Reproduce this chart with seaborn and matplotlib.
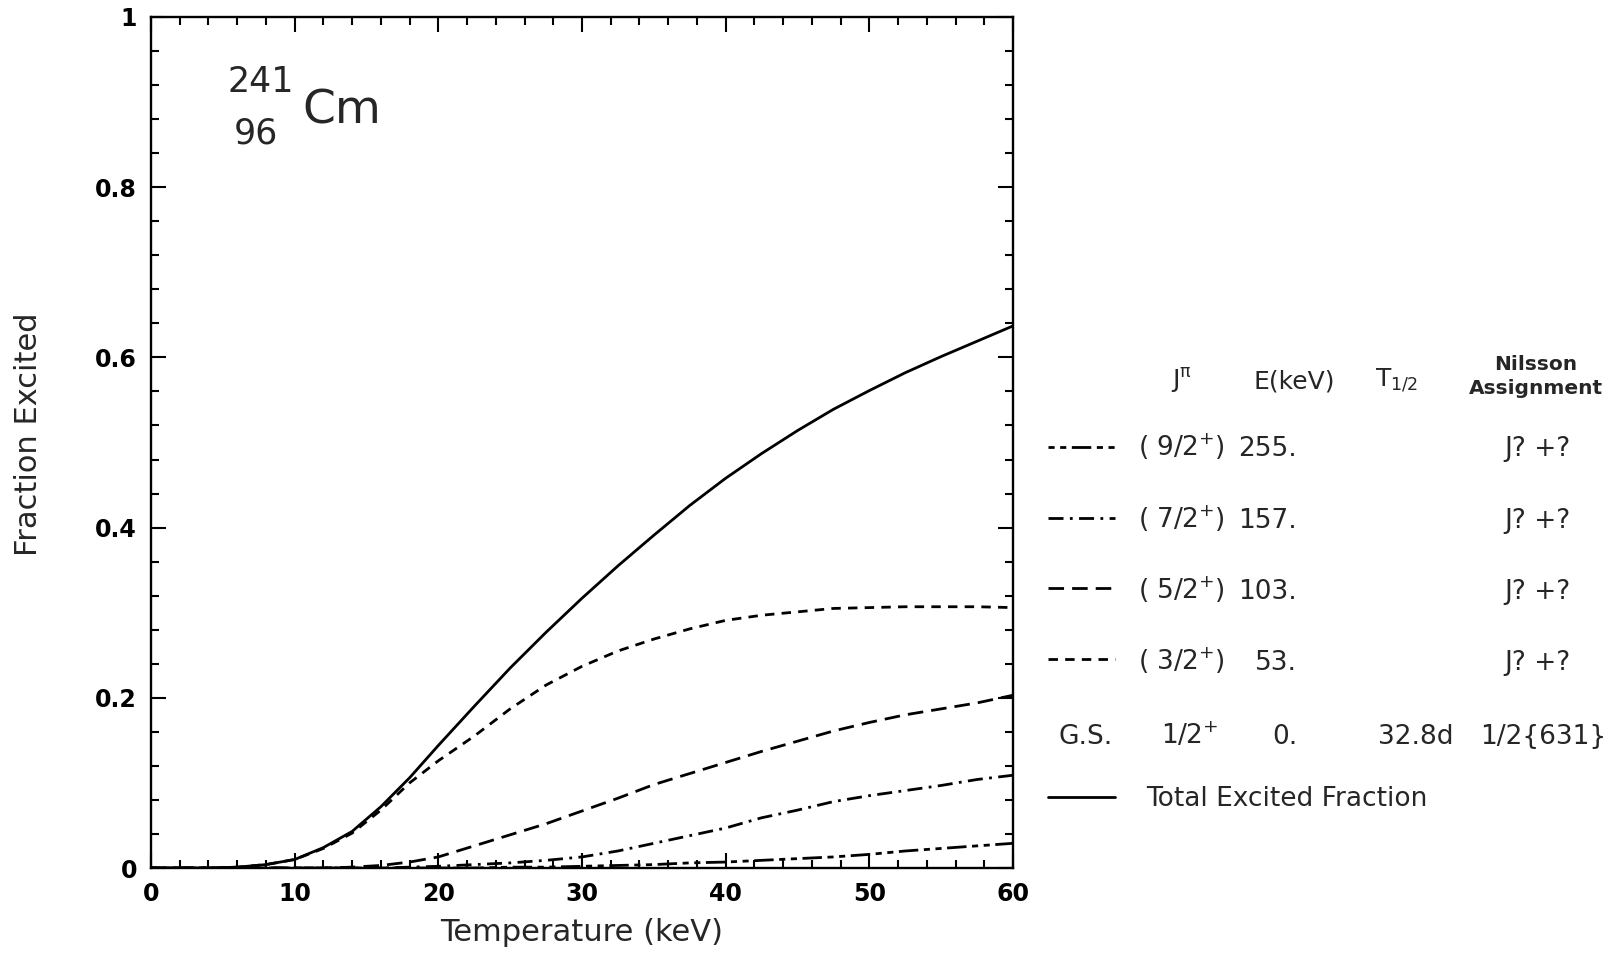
import matplotlib
matplotlib.use("Agg")
import matplotlib.pyplot as plt
from matplotlib.ticker import MultipleLocator, FuncFormatter
import seaborn as sns

# ---- data ----
temperature = [0, 2, 4, 6, 8, 10, 12, 14, 16, 18, 20, 22.5, 25, 27.5, 30,
               32.5, 35, 37.5, 40, 42.5, 45, 47.5, 50, 52.5, 55, 57.5, 60]
total_excited = [0, 0, 0, 0.001, 0.004, 0.010, 0.024, 0.043, 0.072, 0.106, 0.144,
                 0.190, 0.235, 0.277, 0.317, 0.355, 0.391, 0.426, 0.458, 0.487,
                 0.514, 0.539, 0.561, 0.582, 0.601, 0.619, 0.637]
frac_3_2 = [0, 0, 0, 0.001, 0.004, 0.010, 0.023, 0.041, 0.068, 0.100, 0.126,
            0.155, 0.187, 0.215, 0.237, 0.255, 0.269, 0.281, 0.291, 0.297,
            0.301, 0.305, 0.306, 0.307, 0.307, 0.307, 0.306]
frac_5_2 = [0, 0, 0, 0, 0, 0, 0, 0.001, 0.003, 0.007, 0.013, 0.026, 0.039,
            0.052, 0.067, 0.082, 0.098, 0.111, 0.124, 0.137, 0.149, 0.161,
            0.171, 0.180, 0.187, 0.194, 0.203]
frac_7_2 = [0, 0, 0, 0, 0, 0, 0, 0, 0, 0.001, 0.002, 0.004, 0.006, 0.009,
            0.013, 0.020, 0.029, 0.038, 0.047, 0.059, 0.068, 0.078, 0.085,
            0.091, 0.097, 0.104, 0.109]
frac_9_2 = [0, 0, 0, 0, 0, 0, 0, 0, 0, 0, 0, 0, 0.001, 0.001, 0.002, 0.003,
            0.004, 0.006, 0.007, 0.009, 0.011, 0.013, 0.016, 0.020, 0.023,
            0.026, 0.029]

x_ticks = [0, 10, 20, 30, 40, 50, 60]
y_ticks = [0, 0.2, 0.4, 0.6, 0.8, 1.0]

level_spins = [r"( 9/2$^{+}$)", r"( 7/2$^{+}$)", r"( 5/2$^{+}$)", r"( 3/2$^{+}$)"]
level_energies = ["255.", "157.", "103.", "53."]
level_nilsson = ["J? +?", "J? +?", "J? +?", "J? +?"]
gs_row = ["G.S.", r"1/2$^{+}$", "0.", "32.8d", "1/2{631}"]

# ---- style ----
sns.set_style("ticks")
plt.rcParams['font.family'] = ['DejaVu Sans']
plt.rcParams['mathtext.default'] = 'regular'

W, H = 1611, 955
fig = plt.figure(figsize=(W / 100, H / 100), dpi=100)
fig.patch.set_facecolor("white")


def fx(px):
    return px / W


def fy(py):
    return 1 - py / H


ax = fig.add_axes([fx(151), fy(868), fx(1013) - fx(151), fy(17) - fy(868)])
ax.set_facecolor("white")

LW = 2.0
styles = [
    (frac_9_2, (0, (2.2, 2.0, 2.2, 2.0, 7.0, 2.0))),
    (frac_7_2, (0, (5.4, 2.3, 1.0, 2.3))),
    (frac_5_2, (0, (5.6, 2.9))),
    (frac_3_2, (0, (3.4, 2.6))),
    (total_excited, "solid"),
]
handles = []
for vals, ls in styles:
    n_before = len(ax.lines)
    sns.lineplot(x=temperature, y=vals, ax=ax, color="black", lw=LW,
                 linestyle=ls, estimator=None, errorbar=None, sort=False)
    handles.append(ax.lines[n_before])

ax.set_xlim(0, 60)
ax.set_ylim(0, 1)
ax.set_xticks(x_ticks)
ax.set_yticks(y_ticks)
ax.xaxis.set_minor_locator(MultipleLocator(2))
ax.yaxis.set_minor_locator(MultipleLocator(0.04))
ax.yaxis.set_major_formatter(FuncFormatter(lambda v, p: "%g" % v))
ax.tick_params(which="both", direction="in", top=True, right=True,
               colors="black", width=1.5)
ax.tick_params(which="major", length=11, labelsize=17, pad=10)
ax.tick_params(which="minor", length=6)
for lab in ax.get_xticklabels() + ax.get_yticklabels():
    lab.set_fontweight("bold")
for sp in ax.spines.values():
    sp.set_linewidth(1.7)
    sp.set_color("black")

ax.set_xlabel("Temperature (keV)", fontsize=22)
ax.set_ylabel("Fraction Excited", fontsize=22)
ax.xaxis.set_label_coords((582 - 151) / (1013 - 151), -(918 - 868) / (868 - 17))
ax.yaxis.set_label_coords(-(151 - 43) / (1013 - 151), (868 - 434) / (868 - 17))

# nucleus label
fig.text(fx(228), fy(92), "241", fontsize=25, va="baseline", ha="left")
fig.text(fx(234), fy(144), "96", fontsize=25, va="baseline", ha="left")
fig.text(fx(302), fy(123), "Cm", fontsize=34, va="baseline", ha="left")

# ---- level table (legend) ----
FS = 19
leg1 = fig.legend(handles=handles[:4], labels=[" "] * 4, loc="upper left",
                  bbox_to_anchor=(fx(1048), fy(447 - 11)), frameon=False,
                  fontsize=FS, handlelength=2.55, handletextpad=0,
                  borderpad=0, borderaxespad=0, labelspacing=1.70)
leg2 = fig.legend(handles=[handles[4]], labels=[" "], loc="upper left",
                  bbox_to_anchor=(fx(1048), fy(796 - 10)), frameon=False,
                  fontsize=FS, handlelength=2.55, handletextpad=0,
                  borderpad=0, borderaxespad=0)

row_base = [456, 528, 599, 670]
for spin, energy, nil, yb in zip(level_spins, level_energies, level_nilsson, row_base):
    fig.text(fx(1138), fy(yb), spin, fontsize=FS, ha="left", va="baseline")
    fig.text(fx(1297), fy(yb), energy, fontsize=FS, ha="right", va="baseline")
    fig.text(fx(1537), fy(yb), nil, fontsize=FS, ha="center", va="baseline")

gs_x = [(1058, "left"), (1190, "center"), (1297, "right"), (1416, "center"), (1543, "center")]
for txt, (xp, ha) in zip(gs_row, gs_x):
    fig.text(fx(xp), fy(744), txt, fontsize=FS, ha=ha, va="baseline")

fig.text(fx(1146), fy(806), "Total Excited Fraction", fontsize=FS, ha="left", va="baseline")

# headers
fig.text(fx(1181), fy(388), r"J$^{\pi}$", fontsize=18, ha="center", va="baseline")
fig.text(fx(1294), fy(388), "E(keV)", fontsize=18, ha="center", va="baseline")
fig.text(fx(1397), fy(386), r"T$_{1/2}$", fontsize=18, ha="center", va="baseline")
fig.text(fx(1536), fy(370), "Nilsson", fontsize=14.5, fontweight="bold", ha="center", va="baseline")
fig.text(fx(1536), fy(394), "Assignment", fontsize=14.5, fontweight="bold", ha="center", va="baseline")

fig.savefig("out.png", dpi=100, facecolor="white")
